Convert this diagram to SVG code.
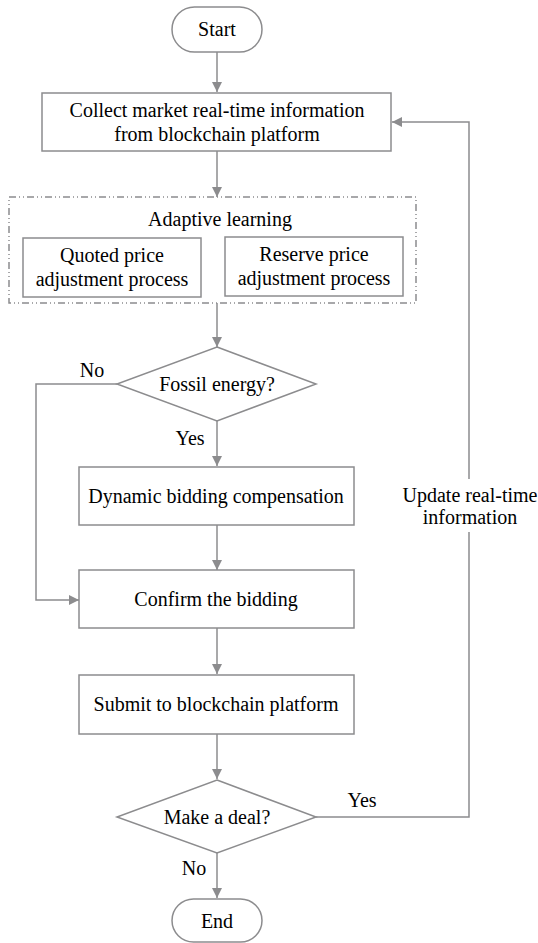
<svg xmlns="http://www.w3.org/2000/svg" width="538" height="943" viewBox="0 0 538 943">
  <defs>
    <marker id="arrow" viewBox="0 0 10 10" refX="10" refY="5" markerWidth="10" markerHeight="10" markerUnits="userSpaceOnUse" orient="auto">
      <path d="M0,0 L10,5 L0,10 z" fill="#8c8c8e"/>
    </marker>
  </defs>

  <!-- connectors -->
  <g id="connectors" fill="none" stroke="#8c8c8e" stroke-width="1.5">
    <line x1="217" y1="52" x2="217" y2="92" marker-end="url(#arrow)"/>
    <line x1="217" y1="151" x2="217" y2="197" marker-end="url(#arrow)"/>
    <line x1="217" y1="303" x2="217" y2="347" marker-end="url(#arrow)"/>
    <line x1="217" y1="421" x2="217" y2="466" marker-end="url(#arrow)"/>
    <line x1="217" y1="525" x2="217" y2="570" marker-end="url(#arrow)"/>
    <line x1="217" y1="628" x2="217" y2="674" marker-end="url(#arrow)"/>
    <line x1="217" y1="734" x2="217" y2="779" marker-end="url(#arrow)"/>
    <line x1="217" y1="853" x2="217" y2="898" marker-end="url(#arrow)"/>
    <!-- "No" bypass from Fossil energy? to Confirm the bidding -->
    <polyline points="117,384 36,384 36,600 79,600" marker-end="url(#arrow)"/>
    <!-- "Yes" feedback loop from Make a deal? back to Collect -->
    <polyline points="316,817 469,817 469,532"/>
    <polyline points="469,479 469,122 392,122" marker-end="url(#arrow)"/>
  </g>
  <g id="connector-labels">
    <text font-family="Liberation Serif" font-size="20" text-anchor="middle" x="92" y="377">No</text>
    <text font-family="Liberation Serif" font-size="20" text-anchor="middle" x="190" y="445">Yes</text>
    <text font-family="Liberation Serif" font-size="20" text-anchor="middle" x="362" y="807">Yes</text>
    <text font-family="Liberation Serif" font-size="20" text-anchor="middle" x="194" y="875">No</text>
    <text font-family="Liberation Serif" font-size="20" text-anchor="middle" x="470" y="502">Update real-time</text>
    <text font-family="Liberation Serif" font-size="20" text-anchor="middle" x="470" y="524">information</text>
  </g>

  <g id="start">
    <rect x="172" y="7" width="90" height="45" rx="22.5" fill="#ffffff" stroke="#8c8c8e" stroke-width="1.5"/>
    <text font-family="Liberation Serif" font-size="20" text-anchor="middle" x="217" y="36">Start</text>
  </g>

  <g id="collect">
    <rect x="42" y="93" width="349" height="58" fill="#ffffff" stroke="#8c8c8e" stroke-width="1.5"/>
    <text font-family="Liberation Serif" font-size="20" text-anchor="middle" x="217" y="117">Collect market real-time information</text>
    <text font-family="Liberation Serif" font-size="20" text-anchor="middle" x="217" y="141">from blockchain platform</text>
  </g>

  <g id="adaptive-learning">
    <rect x="9" y="197" width="407" height="106" fill="none" stroke="#8c8c8e" stroke-width="1.5" stroke-dasharray="7 3 1 3 1 3"/>
    <text font-family="Liberation Serif" font-size="20" text-anchor="middle" x="220" y="226">Adaptive learning</text>
  </g>

  <g id="quoted-price">
    <rect x="23" y="238" width="178" height="59" fill="#ffffff" stroke="#8c8c8e" stroke-width="1.5"/>
    <text font-family="Liberation Serif" font-size="20" text-anchor="middle" x="112" y="262">Quoted price</text>
    <text font-family="Liberation Serif" font-size="20" text-anchor="middle" x="112" y="286">adjustment process</text>
  </g>

  <g id="reserve-price">
    <rect x="225" y="237" width="178" height="59" fill="#ffffff" stroke="#8c8c8e" stroke-width="1.5"/>
    <text font-family="Liberation Serif" font-size="20" text-anchor="middle" x="314" y="261">Reserve price</text>
    <text font-family="Liberation Serif" font-size="20" text-anchor="middle" x="314" y="285">adjustment process</text>
  </g>

  <g id="fossil-energy">
    <polygon points="217,347 316,384 217,421 117,384" fill="#ffffff" stroke="#8c8c8e" stroke-width="1.5"/>
    <text font-family="Liberation Serif" font-size="20" text-anchor="middle" x="217" y="391">Fossil energy?</text>
  </g>

  <g id="compensation">
    <rect x="79" y="467" width="275" height="58" fill="#ffffff" stroke="#8c8c8e" stroke-width="1.5"/>
    <text font-family="Liberation Serif" font-size="20" text-anchor="middle" x="216" y="503">Dynamic bidding compensation</text>
  </g>

  <g id="confirm">
    <rect x="79" y="570" width="275" height="58" fill="#ffffff" stroke="#8c8c8e" stroke-width="1.5"/>
    <text font-family="Liberation Serif" font-size="20" text-anchor="middle" x="216" y="606">Confirm the bidding</text>
  </g>

  <g id="submit">
    <rect x="79" y="675" width="275" height="59" fill="#ffffff" stroke="#8c8c8e" stroke-width="1.5"/>
    <text font-family="Liberation Serif" font-size="20" text-anchor="middle" x="216" y="711">Submit to blockchain platform</text>
  </g>

  <g id="make-deal">
    <polygon points="217,780 316,817 217,853 117,817" fill="#ffffff" stroke="#8c8c8e" stroke-width="1.5"/>
    <text font-family="Liberation Serif" font-size="20" text-anchor="middle" x="217" y="824">Make a deal?</text>
  </g>

  <g id="end">
    <rect x="172" y="899" width="90" height="43" rx="21.5" fill="#ffffff" stroke="#8c8c8e" stroke-width="1.5"/>
    <text font-family="Liberation Serif" font-size="20" text-anchor="middle" x="217" y="928">End</text>
  </g>
</svg>
